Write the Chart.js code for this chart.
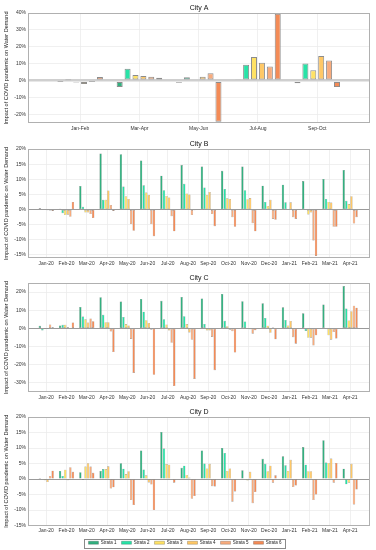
<!DOCTYPE html>
<html>
<head>
<meta charset="utf-8">
<title>Impact of COVID pandemic on Water Demand</title>
<script src="https://cdn.jsdelivr.net/npm/chart.js@4.4.0/dist/chart.umd.min.js"></script>
<style>
  html, body { margin: 0; padding: 0; background: #fff; overflow: hidden; width: 376px; height: 550px; }
  canvas { position: absolute; left: 0; }
</style>
</head>
<body>
<canvas id="cityA" width="376" height="136" style="top:0px"></canvas>
<canvas id="cityB" width="376" height="134" style="top:136px"></canvas>
<canvas id="cityC" width="376" height="134" style="top:270px"></canvas>
<canvas id="cityD" width="376" height="151" style="top:404px"></canvas>
<script>
// Strata names and colours
const strataNames = ['Strata 1', 'Strata 2', 'Strata 3', 'Strata 4', 'Strata 5', 'Strata 6'];
const strataColors = ['#32B07F', '#27E3A7', '#FFE264', '#FFC866', '#F8AB7C', '#F48B56'];

// City A - bi-monthly periods (2020)
const periodLabels = ['Jan-Feb', 'Mar-Apr', 'May-Jun', 'Jul-Aug', 'Sep-Oct'];
const cityA1 = [-0.3, -3.8, -1.2, 0.9, -1.5];
const cityA2 = [0.3, 7.0, 2.0, 9.4, 10.2];
const cityA3 = [-1.1, 3.3, 0, 14.0, 6.2];
const cityA4 = [-2.0, 2.8, 2.3, 10.6, 14.6];
const cityA5 = [-0.3, 2.3, 4.4, 8.4, 12.0];
const cityA6 = [2.2, 1.7, -24.3, 39.6, -3.8];

// Cities B, C, D - monthly
const monthLabels = ['Jan-20', 'Feb-20', 'Mar-20', 'Apr-20', 'May-20', 'Jun-20', 'Jul-20', 'Aug-20',
                     'Sep-20', 'Oct-20', 'Nov-20', 'Dec-20', 'Jan-21', 'Feb-21', 'Mar-21', 'Apr-21'];

const cityB1 = [0.4, 0.3, 7.8, 18.5, 18.3, 16.2, 11.2, 14.7, 14.2, 12.8, 14.2, 7.9, 8.2, 9.4, 10.1, 13.1];
const cityB2 = [0, -1.2, 0.9, 3.2, 7.6, 8.0, 6.4, 8.5, 7.3, 6.8, 6.4, 2.5, 2.4, 0.2, 3.5, 2.9];
const cityB3 = [0, -1.8, -1.0, 3.2, 4.4, 5.6, 4.5, 5.3, 4.8, 3.7, 3.4, 1.2, 0, -1.6, 2.5, 1.8];
const cityB4 = [-0.2, -1.7, -1.0, 6.3, 3.5, 4.8, 4.0, 5.0, 5.8, 3.5, 3.8, 3.2, 2.4, -1.0, 2.3, 4.4];
const cityB5 = [-0.3, -2.4, -1.5, 1.5, -4.8, -4.8, -2.2, -1.8, -1.5, -2.5, -4.5, -3.1, -2.5, -10.2, -5.7, -4.6];
const cityB6 = [-0.5, 2.5, -2.8, -0.5, -7.0, -8.8, -7.2, -0.2, -5.5, -5.7, -7.2, -3.4, -3.1, -15.3, -5.7, -2.5];

const cityC1 = [1.4, 1.6, 11.8, 17.2, 14.8, 16.2, 15.2, 17.3, 16.5, 19.0, 15.0, 13.8, 11.6, 8.3, 13.1, 23.3];
const cityC2 = [-1.2, 2.0, 6.5, 7.5, 6.3, 9.2, 5.1, 6.7, 2.5, 4.2, 3.8, 5.8, 4.7, -1.4, -0.3, 11.0];
const cityC3 = [-0.2, 2.0, 5.0, 3.4, 2.4, 4.5, 2.2, 2.4, -1.2, 1.2, 0, 1.5, 1.6, -5.2, -3.8, 4.4];
const cityC4 = [-0.2, 0.6, 3.3, 3.4, 1.6, 3.0, -1.2, -2.2, -1.2, -0.8, -0.5, -2.4, 4.1, -5.1, -6.2, 9.5];
const cityC5 = [2.2, -0.3, 5.5, -1.7, -5.8, -0.8, -7.9, -6.3, -4.7, -1.5, -2.9, 0.5, -4.8, -9.4, -2.0, 12.5];
const cityC6 = [0.7, 3.3, 4.0, -13.0, -24.5, -25.5, -31.7, -27.8, -23.0, -13.3, -1.0, -6.0, -8.4, -3.8, -5.5, 11.4];

const cityD1 = [0.3, 2.6, 2.2, 2.6, 5.1, 9.2, 15.2, 3.6, 9.2, 10.0, 2.8, 6.5, 7.3, 10.3, 12.5, 3.3];
const cityD2 = [0, 1.0, -0.3, 3.2, 3.3, 3.1, 9.8, 4.3, 5.0, 8.4, 0, 4.9, 4.4, 4.6, 5.3, -1.7];
const cityD3 = [-0.4, 3.0, 4.0, 3.2, 1.6, 1.2, 4.8, 1.3, 3.4, 2.6, -0.5, 2.5, 2.6, 2.5, 5.2, -1.2];
const cityD4 = [-1.0, -0.4, 5.1, 4.1, 2.5, -1.1, 4.6, 0.5, 4.9, 3.4, 2.3, 4.3, 6.2, 2.5, 6.6, 4.9];
const cityD5 = [1.0, 3.8, 4.0, -3.1, -6.8, -1.8, 0, -6.4, -2.3, -7.3, -7.8, -1.2, -2.6, -6.8, -1.2, -8.2];
const cityD6 = [2.7, 2.3, 2.0, -2.7, -8.4, -10.0, -1.2, -5.5, -2.4, -4.0, -4.2, 1.2, -2.1, -5.0, 5.2, -3.4];

// Y tick labels (percent)
const cityATicks = [-20, -10, 0, 10, 20, 30, 40];
const cityBTicks = [-15, -10, -5, 0, 5, 10, 15, 20];
const cityCTicks = [-30, -20, -10, 0, 10, 20];
const cityDTicks = [-15, -10, -5, 0, 5, 10, 15, 20];

const FONT = "'Liberation Sans', Arial, sans-serif";

// Box around the plot area (MATLAB style) + border around the legend
const framePlugin = {
    id: 'frame',
    afterDraw(chart) {
        const { ctx, chartArea: a } = chart;
        ctx.save();
        ctx.strokeStyle = '#b0b0b0';
        ctx.lineWidth = 1;
        ctx.strokeRect(Math.round(a.left) + 0.5, Math.round(a.top) + 0.5,
                       Math.round(a.right - a.left) - 1, Math.round(a.bottom - a.top) - 1);
        if (chart.options.plugins.legend.display && chart.legend.legendHitBoxes.length) {
            const boxes = chart.legend.legendHitBoxes;
            const left = Math.min(...boxes.map(b => b.left)) - 4;
            const right = Math.max(...boxes.map(b => b.left + b.width)) + 4;
            const top = boxes[0].top - 2;
            const bottom = boxes[0].top + boxes[0].height + 2;
            ctx.strokeStyle = '#8a8a8a';
            ctx.strokeRect(Math.round(left) + 0.5, Math.round(top) + 0.5, Math.round(right - left), Math.round(bottom - top));
        }
        ctx.restore();
    }
};

function makeCityChart(id, title, labels, series, yTicks, yMin, yMax, xMin, xMax, opts) {
    const datasets = series.map((values, s) => ({
        label: strataNames[s],
        data: values.map((v, i) => ({ x: i + 1, y: v })),
        backgroundColor: strataColors[s],
        borderColor: opts.edge,
        borderWidth: opts.edgeWidth,
        borderSkipped: false,
        categoryPercentage: opts.groupWidth,
        barPercentage: opts.barWidth
    }));

    return new Chart(document.getElementById(id), {
        type: 'bar',
        data: { datasets: datasets },
        options: {
            responsive: false,
            animation: false,
            layout: { padding: { left: 0, right: 6, top: 0, bottom: opts.bottomPad } },
            plugins: {
                title: {
                    display: true,
                    text: title,
                    fullSize: false,
                    color: '#111',
                    font: { family: FONT, size: 7, weight: 'normal' },
                    padding: { top: 4, bottom: 0.6 }
                },
                legend: {
                    display: opts.legend,
                    position: 'bottom',
                    labels: {
                        boxWidth: 10,
                        boxHeight: 3,
                        padding: 5,
                        color: '#222',
                        font: { family: FONT, size: 4.5 }
                    }
                },
                tooltip: { enabled: false }
            },
            scales: {
                x: {
                    type: 'linear',
                    offset: false,
                    bounds: 'data',
                    min: xMin,
                    max: xMax,
                    // one tick per period, labelled with its name
                    afterBuildTicks: axis => { axis.ticks = labels.map((_, i) => ({ value: i + 1 })); },
                    afterFit: axis => { axis.height = opts.xAxisHeight; },
                    grid: { offset: false, color: '#ececec', lineWidth: 0.8, drawTicks: false },
                    border: { display: false },
                    ticks: {
                        autoSkip: false,
                        maxRotation: 0,
                        padding: 2.5,
                        color: '#333',
                        font: { family: FONT, size: 5 },
                        callback: v => labels[v - 1]
                    }
                },
                y: {
                    min: yMin,
                    max: yMax,
                    afterBuildTicks: axis => { axis.ticks = yTicks.map(v => ({ value: v })); },
                    afterFit: axis => { axis.width = 28; },
                    grid: {
                        drawTicks: false,
                        color: c => (c.tick && c.tick.value === 0) ? opts.zeroColor : '#ececec',
                        lineWidth: c => (c.tick && c.tick.value === 0) ? opts.zeroWidth : 0.8
                    },
                    border: { display: false },
                    ticks: {
                        padding: 2,
                        color: '#333',
                        font: { family: FONT, size: 5 },
                        callback: v => v + '%'
                    },
                    title: {
                        display: true,
                        text: 'Impact of COVID pandemic on Water Demand',
                        color: '#222',
                        font: { family: FONT, size: 5.5 },
                        padding: { top: 3, bottom: 0 }
                    }
                }
            }
        },
        plugins: [framePlugin]
    });
}

const monthlyStyle = {
    edge: 'rgba(30,30,30,0.65)', edgeWidth: 0.35, groupWidth: 0.76, barWidth: 0.9,
    zeroColor: '#9a9a9a', zeroWidth: 1, legend: false, xAxisHeight: 12, bottomPad: 0
};

makeCityChart('cityA', 'City A', periodLabels,
    [cityA1, cityA2, cityA3, cityA4, cityA5, cityA6],
    cityATicks, -25, 40, 0.12, 5.89,
    { edge: '#8c8c8c', edgeWidth: 1, groupWidth: 0.8, barWidth: 0.76,
      zeroColor: '#cfcfcf', zeroWidth: 2.5, legend: false, xAxisHeight: 12, bottomPad: 1 });

makeCityChart('cityB', 'City B', monthLabels,
    [cityB1, cityB2, cityB3, cityB4, cityB5, cityB6],
    cityBTicks, -16, 20, 0.1, 16.98, monthlyStyle);

makeCityChart('cityC', 'City C', monthLabels,
    [cityC1, cityC2, cityC3, cityC4, cityC5, cityC6],
    cityCTicks, -35, 25, 0.1, 16.98, monthlyStyle);

makeCityChart('cityD', 'City D', monthLabels,
    [cityD1, cityD2, cityD3, cityD4, cityD5, cityD6],
    cityDTicks, -15, 20, 0.1, 16.98,
    Object.assign({}, monthlyStyle, { legend: true, xAxisHeight: 10 }));
</script>
</body>
</html>
